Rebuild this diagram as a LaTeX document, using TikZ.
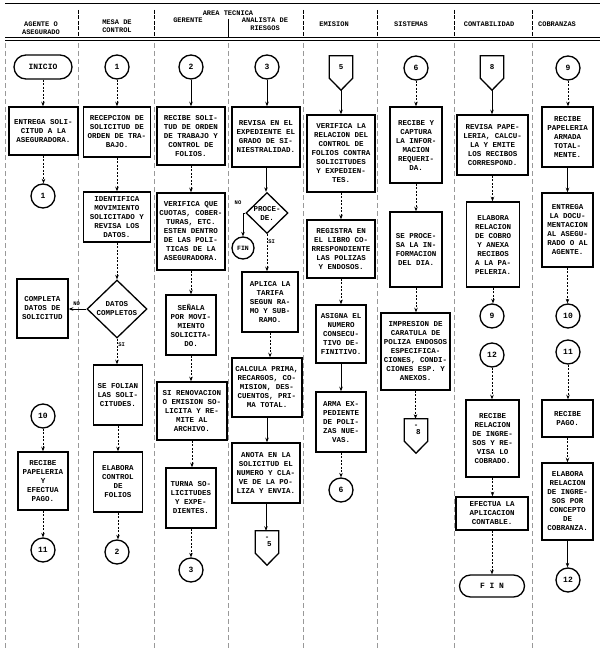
\documentclass[tikz,border=0pt]{standalone}
\usepackage{fontspec}
\setmainfont{Liberation Mono}
\usetikzlibrary{shapes.geometric,shapes.misc,arrows.meta,calc}
\tikzset{
 txt/.style={font=\fontsize{7.5}{9}\selectfont\bfseries, align=center},
 box/.style={txt, draw, line width=1.5pt, inner sep=1pt},
 conn/.style={circle, draw, line width=1.3pt, minimum size=24pt, inner sep=0pt, font=\fontsize{8}{9}\selectfont\bfseries},
 term/.style={txt, rounded rectangle, draw, line width=1.3pt, inner sep=0pt},
 dec/.style={txt, diamond, draw, line width=1.3pt, inner sep=0pt},
 offp/.style={txt, rectangle, minimum width=23pt, minimum height=22pt, inner sep=0pt},
 flow/.style={line width=0.7pt, -{Stealth[length=4.5pt,width=3.5pt]}},
 flowd/.style={flow, dash pattern=on 2pt off 1.5pt},
 lane/.style={black!40, line width=0.5pt, dash pattern=on 5pt off 3pt},
 hdr/.style={font=\fontsize{7}{7.6}\selectfont\bfseries, align=center},
 lbl/.style={font=\fontsize{5.5}{6}\selectfont\bfseries, inner sep=1pt},
}
\newcommand\vflow[3][flowd]{\draw[#1] (#2.south) -- (#2.south |- #3.north);}
\newcommand\offpg[1]{\draw[line width=1.3pt, line join=miter] (#1.north west) -- (#1.south west) -- ($(#1.south)+(0,12)$) coordinate (#1-tip) -- (#1.south east) -- (#1.north east) -- cycle;}
\begin{document}
\begin{tikzpicture}[x=1pt,y=-1pt]
\fill[white] (0,0) rectangle (602,661);
\useasboundingbox (0,0) rectangle (602,661);
% header
\draw[line width=0.8pt] (5,3) -- (600,3);
\draw[line width=0.9pt] (5,37.5) -- (600,37.5);
\draw[line width=0.9pt] (5,40.5) -- (600,40.5);
\foreach \x in {78,154,303,377,454,532} \draw[line width=0.6pt, dash pattern=on 4pt off 1.5pt] (\x,10) -- (\x,37);
\draw[line width=0.6pt] (228,19) -- (228,37);
\node[hdr] (h1) at (41,28) {AGENTE O\\ASEGURADO};
\node[hdr] (h2) at (117,26) {MESA DE\\CONTROL};
\node[hdr] (h0) at (228,13) {AREA TECNICA};
\node[hdr] (h3) at (188,20) {GERENTE};
\node[hdr] (h4) at (265,24) {ANALISTA DE\\RIESGOS};
\node[hdr] (h5) at (334,24) {EMISION};
\node[hdr] (h6) at (411,24) {SISTEMAS};
\node[hdr] (h7) at (489,24) {CONTABILIDAD};
\node[hdr] (h8) at (557,24) {COBRANZAS};
% lanes
\foreach \x in {5,78,154,228,303,377,454,532} \draw[lane] (\x,43) -- (\x,650);
% lane 1
\node[term, minimum width=58, minimum height=24, font=\fontsize{8}{9}\selectfont\bfseries] (aini) at (43,67) {INICIO};
\node[box, minimum width=69, minimum height=48] (a1) at (43.5,131) {ENTREGA SOLI-\\CITUD A LA\\ASEGURADORA.};
\node[conn] (ac1) at (43,196) {1};
\node[box, minimum width=51, minimum height=59] (a2) at (42.5,308.5) {COMPLETA\\DATOS DE\\SOLICITUD};
\node[conn] (ac10) at (43,416) {10};
\node[box, minimum width=50, minimum height=58] (a3) at (43,481) {RECIBE\\PAPELERIA\\Y\\EFECTUA\\PAGO.};
\node[conn] (ac11) at (43,550) {11};
% lane 2
\node[conn] (bc1) at (117,67) {1};
\node[box, minimum width=67, minimum height=50] (b1) at (117,132) {RECEPCION DE\\SOLICITUD DE\\ORDEN DE TRA-\\BAJO.};
\node[box, minimum width=67, minimum height=50] (b2) at (117,217) {IDENTIFICA\\MOVIMIENTO\\SOLICITADO Y\\REVISA LOS\\DATOS.};
\node[dec, minimum width=60, minimum height=58] (bd) at (117,309) {DATOS\\COMPLETOS};
\node[box, minimum width=49, minimum height=60] (b3) at (118,395) {SE FOLIAN\\LAS SOLI-\\CITUDES.};
\node[box, minimum width=49, minimum height=60] (b4) at (118,482) {ELABORA\\CONTROL\\DE\\FOLIOS};
\node[conn] (bc2) at (117,552) {2};
% lane 3
\node[conn] (cc2) at (191,67) {2};
\node[box, minimum width=68, minimum height=58] (c1) at (191,136) {RECIBE SOLI-\\TUD DE ORDEN\\DE TRABAJO Y\\CONTROL DE\\FOLIOS.};
\node[box, minimum width=68, minimum height=77] (c2) at (191,231.5) {VERIFICA QUE\\CUOTAS, COBER-\\TURAS, ETC.\\ESTEN DENTRO\\DE LAS POLI-\\TICAS DE LA\\ASEGURADORA.};
\node[box, minimum width=50, minimum height=60] (c3) at (191,325) {SEÑALA\\POR MOVI-\\MIENTO\\SOLICITA-\\DO.};
\node[box, minimum width=70, minimum height=58] (c4) at (192,411) {SI RENOVACION\\O EMISION SO-\\LICITA Y RE-\\MITE AL\\ARCHIVO.};
\node[box, minimum width=50, minimum height=60] (c5) at (191,498) {TURNA SO-\\LICITUDES\\Y EXPE-\\DIENTES.};
\node[conn] (cc3) at (191,570) {3};
% lane 4
\node[conn] (dc3) at (267,67) {3};
\node[box, minimum width=68, minimum height=60] (d1) at (266,137) {REVISA EN EL\\EXPEDIENTE EL\\GRADO DE SI-\\NIESTRALIDAD.};
\node[dec, minimum width=42, minimum height=40] (dd) at (267,213) {PROCE-\\DE.};
\node[conn, font=\fontsize{6.5}{7}\selectfont\bfseries, minimum size=22pt] (dfin) at (243,248) {FIN};
\node[box, minimum width=56, minimum height=60] (d2) at (270,302) {APLICA LA\\TARIFA\\SEGUN RA-\\MO Y SUB-\\RAMO.};
\node[box, minimum width=70, minimum height=59] (d3) at (267,387.5) {CALCULA PRIMA,\\RECARGOS, CO-\\MISION, DES-\\CUENTOS, PRI-\\MA TOTAL.};
\node[box, minimum width=68, minimum height=60] (d4) at (266,473) {ANOTA EN LA\\SOLICITUD EL\\NUMERO Y CLA-\\VE DE LA PO-\\LIZA Y ENVIA.};
\node[offp] (do5) at (267,542) {-\\[-2pt]\hphantom{-}5};
\offpg{do5}
% lane 5
\node[offp] (eo5) at (341,67) {5};
\offpg{eo5}
\node[box, minimum width=68, minimum height=77] (e1) at (341,153.5) {VERIFICA LA\\RELACION DEL\\CONTROL DE\\FOLIOS CONTRA\\SOLICITUDES\\Y EXPEDIEN-\\TES.};
\node[box, minimum width=68, minimum height=58] (e2) at (341,249) {REGISTRA EN\\EL LIBRO CO-\\RRESPONDIENTE\\LAS POLIZAS\\Y ENDOSOS.};
\node[box, minimum width=50, minimum height=58] (e3) at (341,334) {ASIGNA EL\\NUMERO\\CONSECU-\\TIVO DE-\\FINITIVO.};
\node[box, minimum width=50, minimum height=60] (e4) at (341,422) {ARMA EX-\\PEDIENTE\\DE POLI-\\ZAS NUE-\\VAS.};
\node[conn] (ec6) at (341,490) {6};
% lane 6
\node[conn] (fc6) at (416,68) {6};
\node[box, minimum width=52, minimum height=76] (f1) at (416,145) {RECIBE Y\\CAPTURA\\LA INFOR-\\MACION\\REQUERI-\\DA.};
\node[box, minimum width=52, minimum height=75] (f2) at (416,249.5) {SE PROCE-\\SA LA IN-\\FORMACION\\DEL DIA.};
\node[box, minimum width=69, minimum height=77] (f3) at (415.5,351.5) {IMPRESION DE\\CARATULA DE\\POLIZA ENDOSOS\\ESPECIFICA-\\CIONES, CONDI-\\CIONES ESP. Y\\ANEXOS.};
\node[offp] (fo8) at (416,430) {-\\[-2pt]\hphantom{-}8};
\offpg{fo8}
% lane 7
\node[offp] (go8) at (492,67) {8};
\offpg{go8}
\node[box, minimum width=71, minimum height=60] (g1) at (492.5,145) {REVISA PAPE-\\LERIA, CALCU-\\LA Y EMITE\\LOS RECIBOS\\CORRESPOND.};
\node[box, minimum width=53, minimum height=85] (g2) at (493,244.5) {ELABORA\\RELACION\\DE COBRO\\Y ANEXA\\RECIBOS\\A LA PA-\\PELERIA.};
\node[conn] (gc9) at (492,316) {9};
\node[conn] (gc12) at (492,355) {12};
\node[box, minimum width=53, minimum height=77] (g3) at (492.5,438.5) {RECIBE\\RELACION\\DE INGRE-\\SOS Y RE-\\VISA LO\\COBRADO.};
\node[box, minimum width=72, minimum height=33] (g4) at (492,513.5) {EFECTUA LA\\APLICACION\\CONTABLE.};
\node[term, minimum width=65, minimum height=22, font=\fontsize{8}{9}\selectfont\bfseries] (gfin) at (492,586) {F I N};
% lane 8
\node[conn] (hc9) at (568,68) {9};
\node[box, minimum width=51, minimum height=60] (h1b) at (567.5,137) {RECIBE\\PAPELERIA\\ARMADA\\TOTAL-\\MENTE.};
\node[box, minimum width=51, minimum height=74] (h2b) at (567.5,230) {ENTREGA\\LA DOCU-\\MENTACION\\AL ASEGU-\\RADO O AL\\AGENTE.};
\node[conn] (hc10) at (568,316) {10};
\node[conn] (hc11) at (568,352) {11};
\node[box, minimum width=51, minimum height=37] (h3b) at (567.5,418.5) {RECIBE\\PAGO.};
\node[box, minimum width=51, minimum height=77] (h4b) at (567.5,501.5) {ELABORA\\RELACION\\DE INGRE-\\SOS POR\\CONCEPTO\\DE\\COBRANZA.};
\node[conn] (hc12) at (568,580) {12};
% connectors lane 1
\vflow{aini}{a1}
\vflow{a1}{ac1}
\vflow{ac10}{a3}
\vflow{a3}{ac11}
% lane 2
\vflow{bc1}{b1}
\vflow{b1}{b2}
\vflow{b2}{bd}
\draw[flow] (bd.west) -- (bd.west -| a2.east) node[lbl, pos=0.55, above=2pt] {NO};
\draw[flowd] (bd.south) -- (bd.south |- b3.north) node[lbl, pos=0.25, right] {SI};
\vflow{b3}{b4}
\vflow{b4}{bc2}
% lane 3
\vflow[flow]{cc2}{c1}
\vflow{c1}{c2}
\vflow{c2}{c3}
\vflow{c3}{c4}
\vflow{c4}{c5}
\vflow{c5}{cc3}
% lane 4
\vflow[flow]{dc3}{d1}
\vflow[flow]{d1}{dd}
\draw[flow] (dd.west) -| (dfin.north);
\node[lbl] (dno) at (238,203) {NO};
\draw[flowd] (dd.south) -- (dd.south |- d2.north) node[lbl, pos=0.2, right] {SI};
\vflow{d2}{d3}
\vflow[flow]{d3}{d4}
\vflow[flow]{d4}{do5}
% lane 5
\draw[flow] (eo5-tip) -- (eo5-tip |- e1.north);
\vflow{e1}{e2}
\vflow{e2}{e3}
\vflow[flow]{e3}{e4}
\vflow{e4}{ec6}
% lane 6
\vflow{fc6}{f1}
\vflow{f1}{f2}
\vflow{f2}{f3}
\vflow{f3}{fo8}
% lane 7
\draw[flow] (go8-tip) -- (go8-tip |- g1.north);
\vflow{g1}{g2}
\vflow{g2}{gc9}
\vflow{gc12}{g3}
\vflow{g3}{g4}
\vflow{g4}{gfin}
% lane 8
\vflow{hc9}{h1b}
\vflow[flow]{h1b}{h2b}
\vflow{h2b}{hc10}
\vflow{hc11}{h3b}
\vflow{h3b}{h4b}
\vflow[flow]{h4b}{hc12}
\end{tikzpicture}
\end{document}
